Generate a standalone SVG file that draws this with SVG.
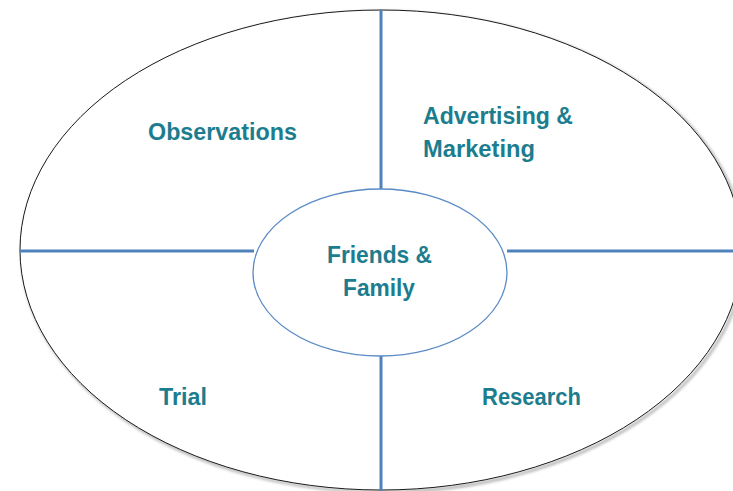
<svg xmlns="http://www.w3.org/2000/svg" width="733" height="491" viewBox="0 0 733 491">
  <defs>
    <filter id="shadow" x="-5%" y="-5%" width="110%" height="110%">
      <feGaussianBlur stdDeviation="1.5"/>
    </filter>
  </defs>
  <style>
    .lbl { font-family: "Liberation Sans", Arial, sans-serif; font-weight: bold; font-size: 24.5px; fill: #1C7D8E; }
    .div { stroke: #4F81BD; stroke-width: 3; fill: none; }
  </style>
  <rect width="733" height="491" fill="#FFFFFF"/>
  <g id="outer">
    <ellipse cx="383" cy="252" rx="361" ry="240" fill="none" stroke="#9A9A9A" stroke-width="2" filter="url(#shadow)"/>
    <ellipse cx="381" cy="250" rx="361" ry="240" fill="#FFFFFF" stroke="#1A1A1A" stroke-width="1"/>
  </g>
  <g id="connectors">
    <line class="div" x1="381" y1="10" x2="381" y2="189"/>
    <line class="div" x1="381" y1="356" x2="381" y2="491"/>
    <line class="div" x1="20" y1="251" x2="254" y2="251"/>
    <line class="div" x1="507" y1="251" x2="733" y2="251"/>
  </g>
  <g id="center">
    <ellipse cx="380" cy="272.5" rx="127" ry="83.5" fill="#FFFFFF" stroke="#5B8BC6" stroke-width="1.3"/>
    <text class="lbl" x="327" y="263" textLength="105" lengthAdjust="spacingAndGlyphs">Friends &amp;</text>
    <text class="lbl" x="343" y="296" textLength="72" lengthAdjust="spacingAndGlyphs">Family</text>
  </g>
  <g id="observations">
    <text class="lbl" x="148" y="140" textLength="149" lengthAdjust="spacingAndGlyphs">Observations</text>
  </g>
  <g id="advertising">
    <text class="lbl" x="423" y="124" textLength="150" lengthAdjust="spacingAndGlyphs">Advertising &amp;</text>
    <text class="lbl" x="423" y="157" textLength="112" lengthAdjust="spacingAndGlyphs">Marketing</text>
  </g>
  <g id="trial">
    <text class="lbl" x="159" y="405" textLength="48" lengthAdjust="spacingAndGlyphs">Trial</text>
  </g>
  <g id="research">
    <text class="lbl" x="482" y="405" textLength="99" lengthAdjust="spacingAndGlyphs">Research</text>
  </g>
</svg>
